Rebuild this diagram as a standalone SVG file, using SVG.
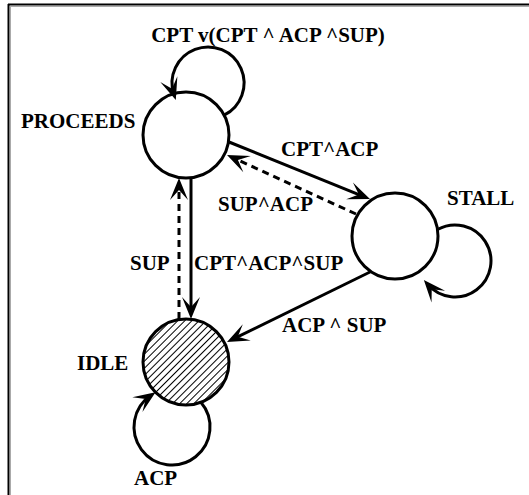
<svg xmlns="http://www.w3.org/2000/svg" width="529" height="495" viewBox="0 0 529 495">
  <style>
    .node { fill: #fff; stroke: #000; stroke-width: 3; }
    .edge { fill: none; stroke: #000; stroke-width: 3; marker-end: url(#arrow); }
    .dash { stroke-dasharray: 7 5; }
    .lbl { font-family: "Liberation Serif", "Times New Roman", serif; font-weight: bold; font-size: 21px; fill: #000; }
  </style>
  <defs>
    <marker id="arrow" markerUnits="userSpaceOnUse" markerWidth="26" markerHeight="22" viewBox="-24 -11 26 22" refX="-6" refY="0" orient="auto">
      <path d="M0,0 L-22,-9 L-12,0 L-22,9 Z" fill="#000"/>
    </marker>
    <pattern id="hatch" width="5" height="5" patternUnits="userSpaceOnUse" patternTransform="rotate(45)">
      <rect width="5" height="5" fill="#fff"/>
      <line x1="2.5" y1="0" x2="2.5" y2="5" stroke="#000" stroke-width="1"/>
    </pattern>
  </defs>

  <!-- frame -->
  <g id="frame">
    <rect x="0" y="0" width="529" height="495" fill="#fff"/>
    <line x1="8" y1="4.5" x2="529" y2="4.5" stroke="#000" stroke-width="2"/>
    <line x1="8.5" y1="4" x2="8.5" y2="495" stroke="#000" stroke-width="2"/>
    <line x1="10" y1="6.5" x2="529" y2="6.5" stroke="#aaa" stroke-width="1"/>
    <line x1="10.5" y1="6" x2="10.5" y2="495" stroke="#aaa" stroke-width="1"/>
  </g>

  <!-- states -->
  <g id="proceeds">
    <circle class="node" cx="186" cy="135" r="43"/>
    <text class="lbl" x="21" y="128">PROCEEDS</text>
  </g>
  <g id="stall">
    <circle class="node" cx="395" cy="236" r="43"/>
    <text class="lbl" x="447" y="205">STALL</text>
  </g>
  <g id="idle">
    <circle class="node" cx="186" cy="362" r="43" style="fill:url(#hatch)"/>
    <text class="lbl" x="77" y="370">IDLE</text>
  </g>

  <!-- transitions -->
  <g id="connectors">
    <path class="edge" d="M224.1,115.2 A36,36 0 1,0 173.9,94.4"/>
    <path class="edge" d="M437.5,229.5 A36,36 0 1,1 427.8,284.6"/>
    <path class="edge" d="M200.9,402.3 A38,38 0 1,1 150.6,395.6"/>
    <path class="edge" d="M229,142 L364.4,196.8"/>
    <path class="edge dash" d="M356,214 L232.5,157.5"/>
    <path class="edge" d="M191,179 L191,313"/>
    <path class="edge dash" d="M179,319 L179,184"/>
    <path class="edge" d="M370,272 L232.4,339.4"/>
  </g>

  <!-- transition labels -->
  <g id="labels">
    <text class="lbl" x="268" y="42" text-anchor="middle">CPT v(CPT ^ ACP ^SUP)</text>
    <text class="lbl" x="281" y="156">CPT^ACP</text>
    <text class="lbl" x="218" y="211">SUP^ACP</text>
    <text class="lbl" x="130" y="270">SUP</text>
    <text class="lbl" x="194" y="270">CPT^ACP^SUP</text>
    <text class="lbl" x="282" y="332">ACP ^ SUP</text>
    <text class="lbl" x="134" y="485">ACP</text>
  </g>
</svg>
